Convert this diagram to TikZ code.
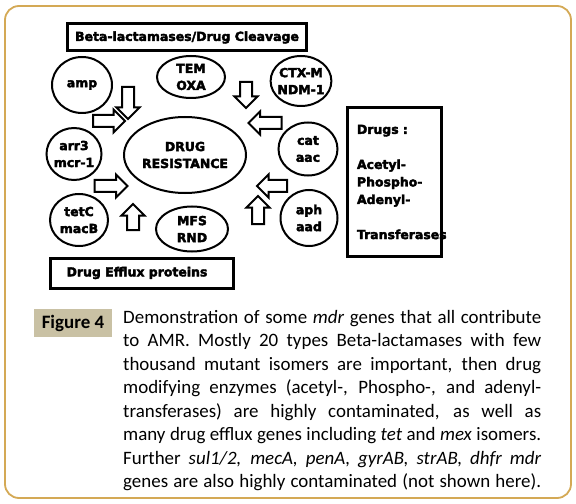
\documentclass[tikz,border=0pt]{standalone}
\usepackage{fontspec}
\setmainfont{Carlito}
\newfontfamily\diagfont{DejaVu Sans}[BoldFeatures={FakeBold=3}]
\usepackage{xcolor}
\definecolor{framegold}{HTML}{D4A955}
\definecolor{figtan}{HTML}{C9C1A4}
\usetikzlibrary{shapes.geometric,shapes.arrows}
\tikzset{
  gene/.style={draw, ellipse, line width=2bp, inner sep=-2bp, align=center,
               font=\diagfont\bfseries\fontsize{12.5}{17}\selectfont},
  hdr/.style={draw, rectangle, line width=3bp, inner sep=0pt, align=center,
              font=\diagfont\bfseries\fontsize{12.5}{15}\selectfont},
  blk/.style={single arrow, draw, line width=2bp, inner xsep=0pt, inner ysep=5bp,
              single arrow head extend=5.5bp, minimum width=22bp, minimum height=30bp},
}
\newcommand\capline[1]{\makebox[418bp][s]{#1}}

\begin{document}
\begin{tikzpicture}[x=1bp, y=-1bp]
  \useasboundingbox (0,0) rectangle (576,504);
  \draw[framegold, line width=1.8bp, rounded corners=14bp] (5,6) rectangle (571,498);

  % boxes
  \node[hdr, minimum width=238bp, minimum height=27bp] (beta) at (187,37.5) {Beta-lactamases/Drug Cleavage};
  \node[hdr, minimum width=182bp, minimum height=30bp] (efflux) at (142,273) {\hspace*{-10bp}Drug Efflux proteins};
  \node[hdr, minimum width=94bp, minimum height=148bp, text width=74bp, align=left,
        font=\diagfont\bfseries\fontsize{12.5}{17.6}\selectfont] (drugs) at (394,182)
    {Drugs :\\\mbox{}\\Acetyl-\\Phospho-\\Adenyl-\\\mbox{}\\Transferases};

  % genes
  \node[gene, minimum width=60bp, minimum height=56bp] (amp) at (82,85) {amp};
  \node[gene, minimum width=68bp, minimum height=42bp] (tem) at (191,77) {TEM\\OXA};
  \node[gene, minimum width=58bp, minimum height=50bp] (ctx) at (301,81) {CTX-M\\NDM-1};
  \node[gene, minimum width=122bp, minimum height=76bp] (res) at (185,155) {DRUG\\RESISTANCE};
  \node[gene, minimum width=55bp, minimum height=52bp] (arr) at (74,154) {arr3\\mcr-1};
  \node[gene, minimum width=59bp, minimum height=53bp] (cat) at (308,149) {cat\\aac};
  \node[gene, minimum width=58bp, minimum height=52bp] (tet) at (79,220) {tetC\\macB};
  \node[gene, minimum width=72bp, minimum height=45bp] (mfs) at (192,229) {MFS\\RND};
  \node[gene, minimum width=57bp, minimum height=56bp] (aph) at (309,218) {aph\\aad};

  % block arrows
  \node[blk, rotate=270, minimum height=32bp, minimum width=23bp] (a1) at (128,100) {};
  \node[blk, minimum height=32bp, minimum width=23bp] (a2) at (106,121) {};
  \node[blk, rotate=270, minimum height=26bp, minimum width=20bp] (a3) at (246,92) {};
  \node[blk, rotate=180, minimum height=33bp, minimum width=18bp] (a4) at (268,123) {};
  \node[blk, minimum height=33bp, minimum width=19bp] (a5) at (108,186) {};
  \node[blk, rotate=180, minimum height=30bp, minimum width=18bp] (a6) at (275,186) {};
  \node[blk, rotate=90, minimum height=26bp, minimum width=22bp] (a7) at (133,220) {};
  \node[blk, rotate=90, minimum height=28bp, minimum width=21bp] (a8) at (258,213) {};

  % caption
  \node[fill=figtan, minimum width=78bp, minimum height=28bp, inner sep=0pt,
        font=\bfseries\fontsize{19}{23}\selectfont] (fig) at (73,323) {Figure 4};
  \node[anchor=north west, inner sep=0pt, text width=418bp, align=justify,
        font=\fontsize{19}{23.6}\selectfont] (cap) at (123,310)
    {\capline{Demonstration of some \textit{mdr} genes that all contribute}\\
     \capline{to AMR. Mostly 20 types Beta-lactamases with few}\\
     \capline{thousand mutant isomers are important, then drug}\\
     \capline{modifying enzymes (acetyl-, Phospho-, and adenyl-}\\
     \capline{transferases) are highly contaminated, as well as}\\
     \capline{many drug efflux genes including \textit{tet} and \textit{mex} isomers.}\\
     \capline{Further \textit{sul1/2, mecA, penA, gyrAB, strAB, dhfr mdr}}\\
     \capline{genes are also highly contaminated (not shown here).}};
\end{tikzpicture}
\end{document}
